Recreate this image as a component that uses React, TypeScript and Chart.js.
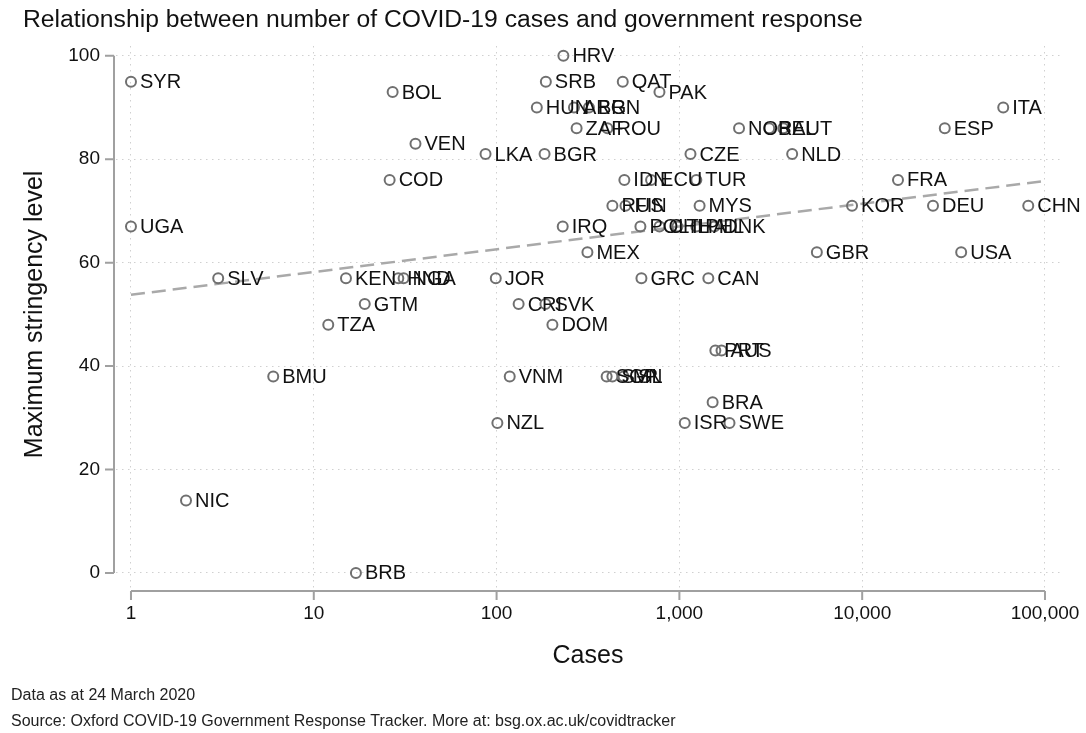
import React, { useEffect, useRef } from "react";
import { Chart, registerables } from "chart.js";

Chart.register(...registerables);

// ---- Data ----
const countries = [
  "SYR", "UGA", "NIC", "SLV", "BMU", "TZA", "KEN", "BRB", "GTM", "COD",
  "BOL", "HND", "NGA", "VEN", "LKA", "JOR", "NZL", "VNM", "CRI", "HUN",
  "BGR", "SRB", "SVK", "DOM", "IRQ", "HRV", "ARG", "ZAF", "MEX", "BRN",
  "SGP", "ROU", "SVN", "RUS", "QAT", "ISL", "IDN", "FIN", "POL", "GRC",
  "ECU", "CHL", "PAK", "THA", "ISR", "CZE", "TUR", "PHL", "MYS", "CAN",
  "BRA", "DNK", "PRT", "AUS", "SWE", "NOR", "BEL", "AUT", "NLD", "GBR",
  "KOR", "FRA", "DEU", "ESP", "USA", "ITA", "CHN",
];
const cases = [
  1, 1, 2, 3, 6, 12, 15, 17, 19, 26,
  27, 29, 31, 36, 87, 99, 101, 118, 132, 166,
  183, 186, 185, 202, 230, 232, 265, 274, 314, 320,
  400, 404, 430, 430, 490, 495, 500, 507, 612, 620,
  700, 778, 778, 975, 1070, 1150, 1238, 1238, 1290, 1440,
  1520, 1552, 1573, 1700, 1880, 2120, 3100, 3700, 4140, 5650,
  8800, 15700, 24400, 28300, 34800, 59100, 81000,
];
const stringency = [
  95, 67, 14, 57, 38, 48, 57, 0, 52, 76,
  93, 57, 57, 83, 81, 57, 29, 38, 52, 90,
  81, 95, 52, 48, 67, 100, 90, 86, 62, 90,
  38, 86, 38, 71, 95, 38, 76, 71, 67, 57,
  76, 67, 93, 67, 29, 81, 76, 67, 71, 57,
  33, 67, 43, 43, 29, 86, 86, 86, 81, 62,
  71, 76, 71, 86, 62, 90, 71,
];
const trendCases = [1, 100000];
const trendStringency = [53.8, 75.8];

const xTickValues = [1, 10, 100, 1000, 10000, 100000];
const yTickValues = [0, 20, 40, 60, 80, 100];

const titleText = "Relationship between number of COVID-19 cases and government response";
const xTitle = "Cases";
const yTitle = "Maximum stringency level";
const footnotes = [
  "Data as at 24 March 2020",
  "Source: Oxford COVID-19 Government Response Tracker. More at: bsg.ox.ac.uk/covidtracker",
];

const FONT = "'Liberation Sans', Arial, Helvetica, sans-serif";
const W = 1086;
const H = 733;

const decorPlugin = {
  id: "decor",
  beforeDatasetsDraw(chart: any) {
    const { ctx, chartArea } = chart;
    const xs = chart.scales.x;
    const ys = chart.scales.y;
    ctx.save();
    ctx.strokeStyle = "#a0a0a0";
    ctx.lineWidth = 2;
    ctx.setLineDash([]);
    // y axis
    const ax = chartArea.left - 2;
    const yTop = ys.getPixelForValue(yTickValues[yTickValues.length - 1]);
    const yBot = ys.getPixelForValue(yTickValues[0]);
    ctx.beginPath();
    ctx.moveTo(ax, yTop);
    ctx.lineTo(ax, yBot);
    for (const v of yTickValues) {
      const p = ys.getPixelForValue(v);
      ctx.moveTo(ax, p);
      ctx.lineTo(ax - 9, p);
    }
    ctx.stroke();
    // x axis
    const ay = chartArea.bottom + 1;
    const xL = xs.getPixelForValue(xTickValues[0]);
    const xR = xs.getPixelForValue(xTickValues[xTickValues.length - 1]);
    ctx.beginPath();
    ctx.moveTo(xL, ay);
    ctx.lineTo(xR, ay);
    for (const v of xTickValues) {
      const p = xs.getPixelForValue(v);
      ctx.moveTo(p, ay);
      ctx.lineTo(p, ay + 9);
    }
    ctx.stroke();
    ctx.restore();
  },
  afterDatasetsDraw(chart: any) {
    const { ctx } = chart;
    const meta = chart.getDatasetMeta(1);
    ctx.save();
    ctx.fillStyle = "#111";
    ctx.font = `20px ${FONT}`;
    ctx.textAlign = "left";
    ctx.textBaseline = "middle";
    meta.data.forEach((el: any, i: number) => {
      ctx.fillText(countries[i], el.x + 9, el.y + 1);
    });
    ctx.restore();
  },
  afterDraw(chart: any) {
    const { ctx } = chart;
    const xs = chart.scales.x;
    const ys = chart.scales.y;
    ctx.save();
    ctx.fillStyle = "#111";
    // title
    ctx.font = `24.7px ${FONT}`;
    ctx.textAlign = "left";
    ctx.textBaseline = "alphabetic";
    ctx.fillText(titleText, 23, 27);
    // x title
    const cx = (xs.getPixelForValue(xTickValues[0]) + xs.getPixelForValue(xTickValues[xTickValues.length - 1])) / 2;
    ctx.font = `25px ${FONT}`;
    ctx.textAlign = "center";
    ctx.fillText(xTitle, cx, 663);
    // y title
    const cy = (ys.getPixelForValue(yTickValues[0]) + ys.getPixelForValue(yTickValues[yTickValues.length - 1])) / 2;
    ctx.translate(42, cy);
    ctx.rotate(-Math.PI / 2);
    ctx.textAlign = "center";
    ctx.fillText(yTitle, 0, 0);
    ctx.restore();
    // footnotes
    ctx.save();
    ctx.fillStyle = "#222";
    ctx.font = `16px ${FONT}`;
    ctx.textAlign = "left";
    ctx.textBaseline = "alphabetic";
    ctx.fillText(footnotes[0], 11, 700);
    ctx.fillText(footnotes[1], 11, 726);
    ctx.restore();
  },
};

export default function App() {
  const ref = useRef<HTMLCanvasElement | null>(null);

  useEffect(() => {
    if (!ref.current) return;
    const chart = new Chart(ref.current, {
      type: "scatter",
      data: {
        datasets: [
          {
            type: "line",
            data: trendCases.map((c, i) => ({ x: c, y: trendStringency[i] })),
            borderColor: "#a9a9a9",
            borderWidth: 2.5,
            borderDash: [14, 7],
            pointRadius: 0,
            fill: false,
            order: 2,
          } as any,
          {
            type: "scatter",
            data: cases.map((c, i) => ({ x: c, y: stringency[i] })),
            pointStyle: "circle",
            pointRadius: 5,
            borderWidth: 2,
            borderColor: "#707070",
            backgroundColor: "rgba(0,0,0,0)",
            order: 1,
          },
        ],
      },
      plugins: [decorPlugin],
      options: {
        animation: false,
        responsive: false,
        devicePixelRatio: 1,
        layout: { padding: { top: 46, right: 24, bottom: 0, left: 0 } },
        plugins: {
          legend: { display: false },
          tooltip: { enabled: false },
          title: { display: false },
        },
        scales: {
          x: {
            type: "logarithmic",
            min: 0.828,
            max: 123900,
            afterFit: (s: any) => {
              s.height = H - 590;
              s.paddingLeft = 0;
              s.paddingRight = 0;
            },
            afterBuildTicks: (s: any) => {
              s.ticks = xTickValues.map((v) => ({ value: v }));
            },
            ticks: {
              autoSkip: false,
              maxRotation: 0,
              padding: 12,
              color: "#111",
              font: { family: FONT, size: 19 },
              callback: (v: any) => Number(v).toLocaleString("en-US"),
            },
            grid: {
              drawTicks: false,
              color: "#d0d0d0",
              lineWidth: 1,
            },
            border: { display: false, dash: [1.5, 4.5] },
          },
          y: {
            type: "linear",
            min: -3.3,
            max: 101.9,
            afterFit: (s: any) => {
              s.width = 116;
              s.paddingTop = 0;
              s.paddingBottom = 0;
            },
            afterBuildTicks: (s: any) => {
              s.ticks = yTickValues.map((v) => ({ value: v }));
            },
            ticks: {
              padding: 16,
              color: "#111",
              font: { family: FONT, size: 19 },
            },
            grid: {
              drawTicks: false,
              color: "#d0d0d0",
              lineWidth: 1,
            },
            border: { display: false, dash: [1.5, 4.5] },
          },
        },
      } as any,
    });
    return () => chart.destroy();
  }, []);

  return (
    <div style={{ position: "absolute", left: 0, top: 0, width: W, height: H, background: "#fff" }}>
      <canvas ref={ref} width={W} height={H} style={{ width: W, height: H, display: "block" }} />
    </div>
  );
}
